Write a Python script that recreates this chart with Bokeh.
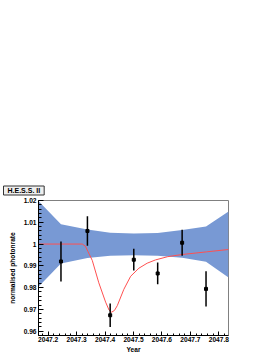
from bokeh.plotting import figure
from bokeh.models import FixedTicker, Range1d
from bokeh.embed import file_html
from bokeh.resources import INLINE

# --- data ---
pt_x = [2047.245, 2047.338, 2047.418, 2047.501, 2047.585, 2047.671, 2047.755]
pt_y = [0.9920, 1.0060, 0.9673, 0.9928, 0.9865, 1.0006, 0.9794]
pt_err = [0.0092, 0.0068, 0.0054, 0.0050, 0.0050, 0.0060, 0.0081]

band_x = [2047.166, 2047.245, 2047.338, 2047.418, 2047.501, 2047.585, 2047.671, 2047.755, 2047.834]
band_hi = [1.0198, 1.0091, 1.0067, 1.0052, 1.0048, 1.0051, 1.0065, 1.0081, 1.0150]
band_lo = [0.9804, 0.9911, 0.9936, 0.9946, 0.9949, 0.9946, 0.9937, 0.9919, 0.9846]

curve_x = [2047.166, 2047.320, 2047.331, 2047.340, 2047.355, 2047.378, 2047.402, 2047.414,
           2047.423, 2047.433, 2047.443, 2047.466, 2047.490, 2047.519, 2047.548,
           2047.577, 2047.620, 2047.671, 2047.756, 2047.834]
curve_y = [1.0000, 1.0000, 0.9990, 0.9965, 0.9925, 0.9822, 0.9733, 0.9697,
           0.9687, 0.9695, 0.9717, 0.9792, 0.9852, 0.9889, 0.9912,
           0.9927, 0.9942, 0.9952, 0.9964, 0.9975]

x_ticks = [2047.2, 2047.3, 2047.4, 2047.5, 2047.6, 2047.7, 2047.8]
y_ticks = [0.96, 0.97, 0.98, 0.99, 1.00, 1.01, 1.02]
y_tick_labels = ["0.96", "0.97", "0.98", "0.99", "1", "1.01", "1.02"]
x_minor = [2047.18 + 0.02 * i for i in range(33)]
y_minor = [0.958 + 0.002 * i for i in range(32)]

FONT = "Liberation Sans"

p = figure(width=274, height=355, output_backend="svg", toolbar_location=None,
           x_range=Range1d(2047.166, 2047.834), y_range=Range1d(0.958, 1.02),
           min_border_left=38, min_border_right=46, min_border_top=200, min_border_bottom=18,
           title="H.E.S.S. II")
p.background_fill_color = "white"
p.border_fill_color = "white"
p.outline_line_color = "#808080"
p.outline_line_width = 1
p.xgrid.visible = False
p.ygrid.visible = False

p.title.align = "left"
p.title.offset = -35
p.title.standoff = 11
p.title.text_font = FONT
p.title.text_font_style = "bold"
p.title.text_font_size = "7px"
p.title.text_color = "black"
p.title.background_fill_color = "#eeeeee"
p.title.border_line_color = "#333333"
p.title.border_line_width = 1
p.title.padding = (4, 1)

p.varea(x=band_x, y1=band_lo, y2=band_hi, fill_color="#7899d4", fill_alpha=1.0)
p.line(x=curve_x, y=curve_y, line_color="#ff5050", line_width=1)
p.segment(x0=pt_x, x1=pt_x,
          y0=[y - e for y, e in zip(pt_y, pt_err)],
          y1=[y + e for y, e in zip(pt_y, pt_err)],
          line_color="black", line_width=1.5)
p.scatter(x=pt_x, y=pt_y, marker="square", size=3, fill_color="black", line_color="black")

p.xaxis.ticker = FixedTicker(ticks=x_ticks, minor_ticks=x_minor)
p.yaxis.ticker = FixedTicker(ticks=y_ticks, minor_ticks=y_minor)
p.yaxis.major_label_overrides = {t: l for t, l in zip(y_ticks, y_tick_labels)}

for ax in (p.xaxis[0], p.yaxis[0]):
    ax.axis_line_color = "black"
    ax.major_tick_line_color = "black"
    ax.minor_tick_line_color = "black"
    ax.major_tick_out = 0
    ax.minor_tick_out = 0
    ax.major_label_text_font = FONT
    ax.major_label_text_font_style = "bold"
    ax.major_label_text_font_size = "6.6px"
    ax.major_label_text_color = "black"
    ax.axis_label_text_font = FONT
    ax.axis_label_text_font_style = "bold"
    ax.axis_label_text_font_size = "6.6px"
    ax.axis_label_text_color = "black"

p.xaxis.major_tick_in = 4
p.xaxis.minor_tick_in = 2
p.yaxis.major_tick_in = 5
p.yaxis.minor_tick_in = 3
p.xaxis.major_label_standoff = 1
p.yaxis.major_label_standoff = 2
p.xaxis.axis_label = "Year"
p.yaxis.axis_label = "normalised photonrate"
p.xaxis.axis_label_standoff = 1
p.yaxis.axis_label_standoff = 5

open("out.html", "w").write(file_html(p, INLINE))
